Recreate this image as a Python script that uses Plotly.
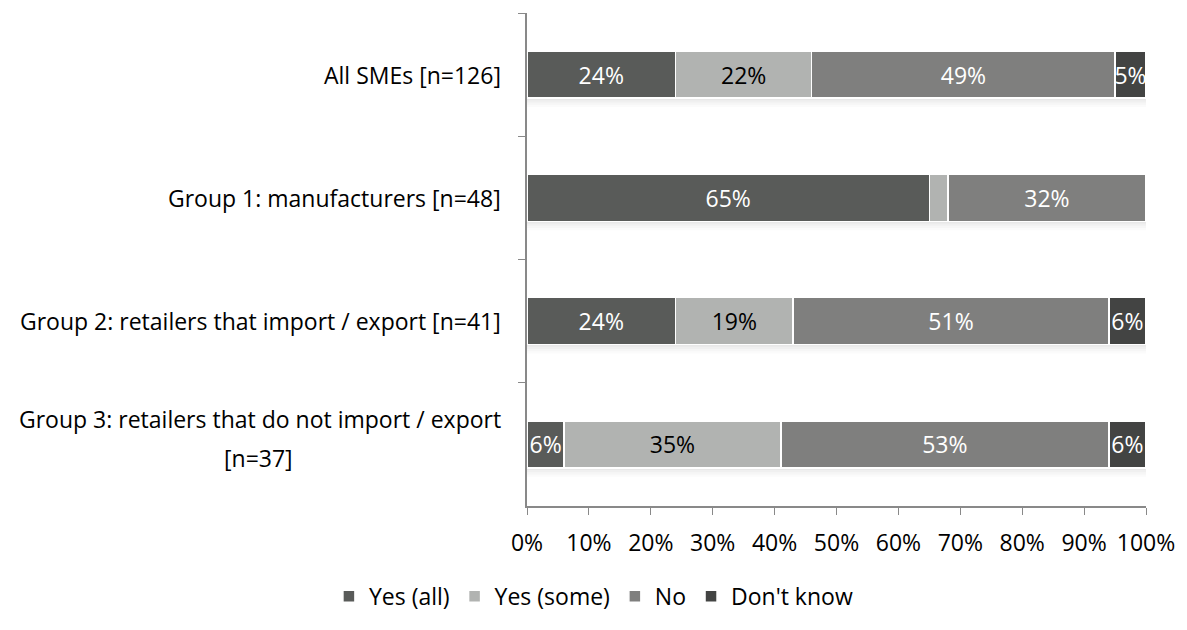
import plotly.graph_objects as go

# Survey groups (top to bottom) and response shares in percent
groups = [
    "All SMEs [n=126]",
    "Group 1: manufacturers [n=48]",
    "Group 2: retailers that import / export [n=41]",
    "Group 3: retailers that do not import / export<br>[n=37]",
]
series_names = ["Yes (all)", "Yes (some)", "No", "Don't know"]
yes_all = [24, 65, 24, 6]
yes_some = [22, 3, 19, 35]
no = [49, 32, 51, 53]
dont_know = [5, 0, 6, 6]
x_ticks = [0, 10, 20, 30, 40, 50, 60, 70, 80, 90, 100]
x_tick_labels = [f"{t}%" for t in x_ticks]

series_values = [yes_all, yes_some, no, dont_know]
colors = ["#595b59", "#b1b3b1", "#7f7f7e", "#434443"]
text_colors = ["white", "black", "white", "white"]

FONT = "Open Sans"
FS = 23

fig = go.Figure()
for name, vals, col, tcol in zip(series_names, series_values, colors, text_colors):
    fig.add_trace(go.Bar(
        y=groups,
        x=vals,
        name=name,
        orientation="h",
        width=0.38,
        marker=dict(color=col, line=dict(color="white", width=1.5)),
        text=[f"{v}%" if v >= 5 else "" for v in vals],
        textposition="inside",
        insidetextanchor="middle",
        textangle=0,
        constraintext="none",
        cliponaxis=False,
        textfont=dict(family=FONT, size=FS, color=tcol),
        hoverinfo="skip",
    ))

# soft shadow under each bar
for i, g in enumerate(groups):
    total = sum(s[i] for s in series_values)
    for k, op in enumerate([0.18, 0.12, 0.07, 0.035]):
        fig.add_shape(
            type="rect", xref="x", yref="y",
            x0=0, x1=total,
            y0=i + 0.19 + k * 0.018, y1=i + 0.19 + (k + 1) * 0.018,
            fillcolor="#808080", opacity=op, line=dict(width=0), layer="below",
        )

# category labels; the wrapped one gets its second line centred under the first
label_font = dict(family=FONT, size=FS, color="black")
LABEL_GAP = 24          # px between label and axis
FIRST_LINE_HALF = 245   # half width of the long first line, px
for g in groups:
    lines = g.split("<br>")
    if len(lines) == 1:
        fig.add_annotation(
            x=0, xref="paper", y=g, yref="y", text=g, showarrow=False,
            xanchor="right", yanchor="middle", xshift=-LABEL_GAP,
            font=label_font,
        )
    else:
        fig.add_annotation(
            x=0, xref="paper", y=g, yref="y", text=lines[0], showarrow=False,
            xanchor="right", yanchor="middle", xshift=-LABEL_GAP, yshift=25,
            font=label_font,
        )
        fig.add_annotation(
            x=0, xref="paper", y=g, yref="y", text=lines[1], showarrow=False,
            xanchor="center", yanchor="middle",
            xshift=-LABEL_GAP - FIRST_LINE_HALF, yshift=-14,
            font=label_font,
        )

fig.update_layout(
    barmode="stack",
    width=1187, height=630,
    margin=dict(l=527, r=39, t=13, b=102),
    plot_bgcolor="white", paper_bgcolor="white",
    font=dict(family=FONT, size=FS, color="black"),
    showlegend=True,
    legend=dict(
        orientation="h", x=-0.32, y=-0.183, xanchor="left", yanchor="middle",
        font=dict(family=FONT, size=FS), traceorder="normal",
    ),
    xaxis=dict(
        range=[0, 100], tickvals=x_ticks, ticktext=x_tick_labels,
        showgrid=False, zeroline=False,
        showline=True, linecolor="#898989", linewidth=1.5,
        ticks="outside", ticklen=7, tickcolor="#898989",
        ticklabelstandoff=9,
        tickfont=dict(family=FONT, size=FS, color="black"),
    ),
    yaxis=dict(
        type="category", autorange="reversed",
        showticklabels=False, showgrid=False, zeroline=False,
        showline=True, linecolor="#898989", linewidth=1.5,
        ticks="outside", ticklen=7, tickcolor="#898989", tickson="boundaries",
    ),
)

fig.write_html("out.html")
